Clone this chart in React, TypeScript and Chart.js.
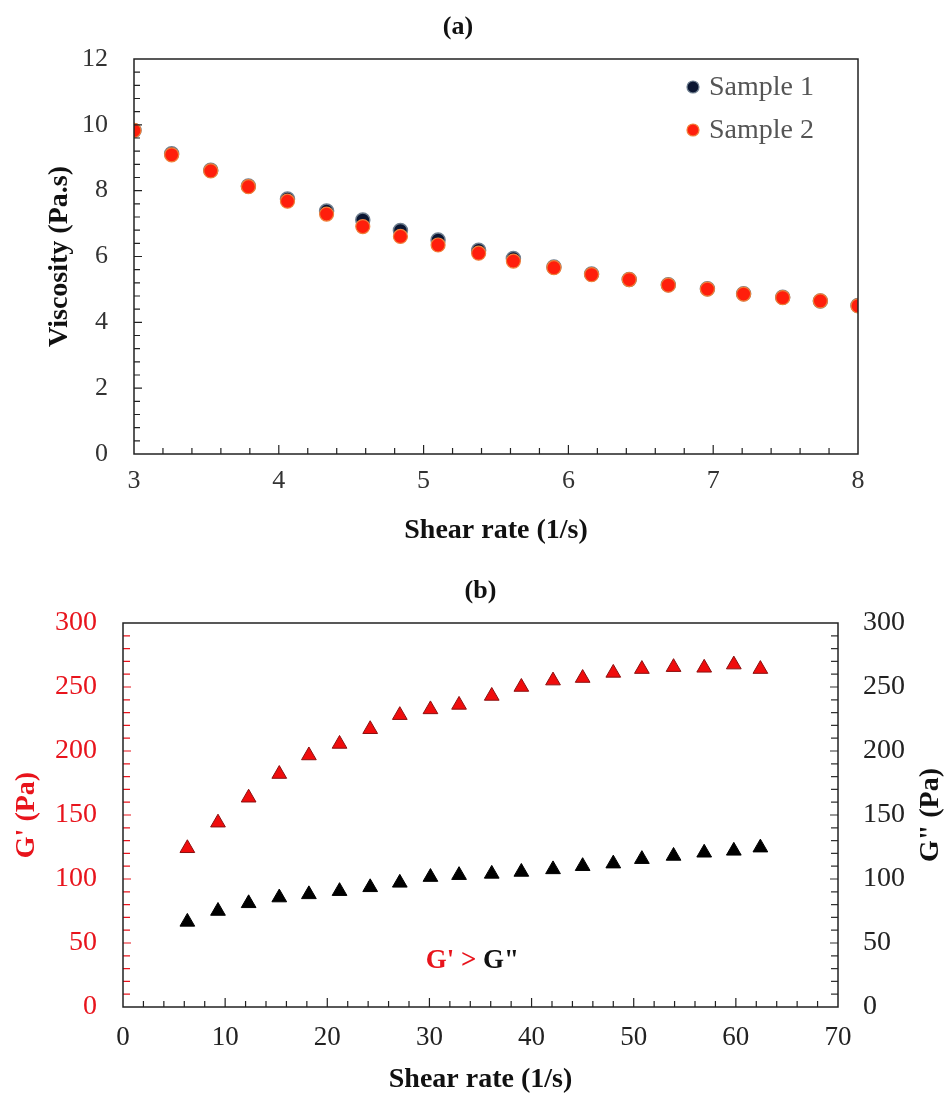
import React, { useEffect, useRef } from "react";
import { Chart, registerables } from "chart.js";
Chart.register(...registerables);

const FONT = "'Liberation Serif', 'Times New Roman', Times, serif";

// ---------- (a) viscosity ----------
const shearA = [3.0, 3.26, 3.53, 3.79, 4.06, 4.33, 4.58, 4.84, 5.1, 5.38, 5.62, 5.9, 6.16, 6.42, 6.69, 6.96, 7.21, 7.48, 7.74, 8.0];
const sample1 = [9.83, 9.12, 8.62, 8.14, 7.75, 7.38, 7.11, 6.79, 6.5, 6.19, 5.94, 5.68, 5.47, 5.3, 5.14, 5.02, 4.87, 4.76, 4.65, 4.51];
const sample2 = [9.83, 9.09, 8.6, 8.12, 7.68, 7.29, 6.91, 6.61, 6.35, 6.1, 5.86, 5.66, 5.45, 5.3, 5.13, 5.01, 4.86, 4.75, 4.65, 4.5];
const seriesA = ["Sample 1", "Sample 2"];

// ---------- (b) moduli ----------
const shearB = [6.3, 9.3, 12.3, 15.3, 18.2, 21.2, 24.2, 27.1, 30.1, 32.9, 36.1, 39.0, 42.1, 45.0, 48.0, 50.8, 53.9, 56.9, 59.8, 62.4];
const gPrime = [124, 144, 163.5, 182, 196.5, 205.5, 217, 228, 232.5, 236, 243, 250, 255, 257, 261, 264, 265.5, 265, 267.5, 264];
const gDouble = [66.5, 75, 81, 85.5, 88, 90.5, 93.5, 97, 101.5, 103, 104, 105.5, 107.5, 110, 112, 115.5, 118, 120.5, 122, 124.5];
const seriesB = ["G'", 'G"'];

const RED = "#e8141c";

function drawTicks(chart: any, id: string, step: number, majorEvery: number, side: string, color: string, majorLen: number, minorLen: number) {
  const scale = chart.scales[id];
  const { ctx, chartArea } = chart;
  const n = Math.round((scale.max - scale.min) / step);
  ctx.save();
  ctx.strokeStyle = color;
  ctx.lineWidth = 1.2;
  ctx.beginPath();
  for (let i = 1; i < n; i++) {
    const p = scale.getPixelForValue(scale.min + i * step);
    const len = i % majorEvery === 0 ? majorLen : minorLen;
    if (side === "bottom") {
      ctx.moveTo(p, chartArea.bottom);
      ctx.lineTo(p, chartArea.bottom - len);
    } else if (side === "left") {
      ctx.moveTo(chartArea.left, p);
      ctx.lineTo(chartArea.left + len, p);
    } else {
      ctx.moveTo(chartArea.right, p);
      ctx.lineTo(chartArea.right - len, p);
    }
  }
  ctx.stroke();
  ctx.restore();
}

function drawFrame(chart: any, color: string) {
  const { ctx, chartArea } = chart;
  ctx.save();
  ctx.strokeStyle = color;
  ctx.lineWidth = 1.5;
  ctx.strokeRect(chartArea.left, chartArea.top, chartArea.right - chartArea.left, chartArea.bottom - chartArea.top);
  ctx.restore();
}

function configA(): any {
  const decor = {
    id: "decorA",
    afterDraw(chart: any) {
      const { ctx, chartArea } = chart;
      drawTicks(chart, "x", 0.2, 5, "bottom", "#222", 9, 6);
      drawTicks(chart, "y", 0.4, 5, "left", "#222", 8, 6);
      drawFrame(chart, "#222");
      ctx.save();
      ctx.fillStyle = "#111";
      ctx.font = `bold 26px ${FONT}`;
      ctx.textAlign = "center";
      ctx.textBaseline = "middle";
      ctx.fillText("(a)", 458, 27);
      // legend
      const lx = chartArea.right - 165;
      const ys = [chartArea.top + 28, chartArea.top + 71];
      ctx.font = `28px ${FONT}`;
      ctx.textAlign = "left";
      chart.data.datasets.forEach((ds: any, i: number) => {
        ctx.beginPath();
        ctx.arc(lx, ys[i], 6, 0, Math.PI * 2);
        ctx.fillStyle = ds.backgroundColor;
        ctx.fill();
        ctx.lineWidth = 1.2;
        ctx.strokeStyle = ds.borderColor;
        ctx.stroke();
        ctx.fillStyle = "#555";
        ctx.fillText(ds.label, lx + 16, ys[i] + 1);
      });
      ctx.restore();
    },
  };
  return {
    type: "scatter",
    data: {
      datasets: [
        {
          label: seriesA[0],
          data: shearA.map((x, i) => ({ x, y: sample1[i] })),
          backgroundColor: "#0b1632",
          borderColor: "#6f7f90",
          borderWidth: 1.5,
          pointRadius: 7,
          order: 1,
        },
        {
          label: seriesA[1],
          data: shearA.map((x, i) => ({ x, y: sample2[i] })),
          backgroundColor: "#ff1e0c",
          borderColor: "#f0803a",
          borderWidth: 1.2,
          pointRadius: 7,
          order: 0,
        },
      ],
    },
    options: {
      responsive: false,
      animation: false,
      events: [],
      layout: { padding: { top: 59, right: 89, left: 0, bottom: 0 } },
      plugins: { legend: { display: false }, tooltip: { enabled: false }, title: { display: false } },
      scales: {
        x: {
          type: "linear",
          min: 3,
          max: 8,
          grid: { display: false, drawTicks: false },
          border: { display: false },
          ticks: { stepSize: 1, padding: 12, color: "#333", font: { family: FONT, size: 26 }, maxRotation: 0, autoSkip: false },
          title: { display: true, text: "Shear rate (1/s)", color: "#111", font: { family: FONT, size: 28, weight: "bold" }, padding: { top: 0, bottom: 2 } },
          afterFit: (s: any) => { s.height = 96; },
        },
        y: {
          type: "linear",
          min: 0,
          max: 12,
          grid: { display: false, drawTicks: false },
          border: { display: false },
          ticks: { stepSize: 2, padding: 26, color: "#333", font: { family: FONT, size: 26 } },
          title: { display: true, text: "Viscosity (Pa.s)", color: "#111", font: { family: FONT, size: 28, weight: "bold" }, padding: { top: 42.7, bottom: 0 } },
          afterFit: (s: any) => { s.width = 134; },
        },
      },
    },
    plugins: [decor],
  };
}

function configB(): any {
  const decor = {
    id: "decorB",
    afterDraw(chart: any) {
      const { ctx, chartArea } = chart;
      drawTicks(chart, "x", 2, 5, "bottom", "#222", 9, 6);
      drawTicks(chart, "y", 10, 5, "left", RED, 8, 7);
      drawTicks(chart, "y2", 10, 5, "right", "#333", 8, 7);
      drawFrame(chart, "#222");
      ctx.save();
      ctx.fillStyle = "#111";
      ctx.font = `bold 26px ${FONT}`;
      ctx.textAlign = "center";
      ctx.textBaseline = "middle";
      ctx.fillText("(b)", (chartArea.left + chartArea.right) / 2, 41);
      // right axis title, reading bottom to top
      ctx.font = `bold 28px ${FONT}`;
      ctx.translate(931, (chartArea.top + chartArea.bottom) / 2);
      ctx.rotate(-Math.PI / 2);
      ctx.fillText('G" (Pa)', 0, 0);
      ctx.restore();
      // annotation G' > G"
      ctx.save();
      ctx.font = `bold 27px ${FONT}`;
      ctx.textBaseline = "middle";
      ctx.textAlign = "left";
      const a = "G' > ";
      const b = 'G"';
      const wa = ctx.measureText(a).width;
      const wb = ctx.measureText(b).width;
      const cx = chart.scales.x.getPixelForValue(34.2);
      const cy = chart.scales.y.getPixelForValue(36);
      const x0 = cx - (wa + wb) / 2;
      ctx.fillStyle = RED;
      ctx.fillText(a, x0, cy);
      ctx.fillStyle = "#111";
      ctx.fillText(b, x0 + wa, cy);
      ctx.restore();
    },
  };
  return {
    type: "scatter",
    data: {
      datasets: [
        {
          label: seriesB[0],
          data: shearB.map((x, i) => ({ x, y: gPrime[i] })),
          yAxisID: "y",
          pointStyle: "triangle",
          backgroundColor: "#f00c0c",
          borderColor: "#8a1010",
          borderWidth: 1,
          pointRadius: 8.5,
        },
        {
          label: seriesB[1],
          data: shearB.map((x, i) => ({ x, y: gDouble[i] })),
          yAxisID: "y2",
          pointStyle: "triangle",
          backgroundColor: "#000000",
          borderColor: "#000000",
          borderWidth: 1,
          pointRadius: 8.5,
        },
      ],
    },
    options: {
      responsive: false,
      animation: false,
      events: [],
      layout: { padding: { top: 73, right: 0, left: 0, bottom: 0 } },
      plugins: { legend: { display: false }, tooltip: { enabled: false }, title: { display: false } },
      scales: {
        x: {
          type: "linear",
          min: 0,
          max: 70,
          grid: { display: false, drawTicks: false },
          border: { display: false },
          ticks: { stepSize: 10, padding: 15, color: "#222", font: { family: FONT, size: 27 }, maxRotation: 0, autoSkip: false },
          title: { display: true, text: "Shear rate (1/s)", color: "#111", font: { family: FONT, size: 28, weight: "bold" }, padding: { top: 0, bottom: 0 } },
          afterFit: (s: any) => { s.height = 90; },
        },
        y: {
          type: "linear",
          position: "left",
          min: 0,
          max: 300,
          grid: { display: false, drawTicks: false },
          border: { display: false },
          ticks: { stepSize: 50, padding: 26, color: RED, font: { family: FONT, size: 28 } },
          title: { display: true, text: "G' (Pa)", color: RED, font: { family: FONT, size: 28, weight: "bold" }, padding: { top: 10, bottom: 0 } },
          afterFit: (s: any) => { s.width = 123; },
        },
        y2: {
          type: "linear",
          position: "right",
          min: 0,
          max: 300,
          grid: { display: false, drawTicks: false },
          border: { display: false },
          ticks: { stepSize: 50, padding: 25, color: "#222", font: { family: FONT, size: 28 } },
          title: { display: false },
          afterFit: (s: any) => { s.width = 109; },
        },
      },
    },
    plugins: [decor],
  };
}

function ChartCanvas({ make, width, height, top }: { make: () => any; width: number; height: number; top: number }) {
  const ref = useRef<HTMLCanvasElement>(null);
  useEffect(() => {
    const chart = new Chart(ref.current as HTMLCanvasElement, make());
    return () => chart.destroy();
  }, [make]);
  return (
    <canvas
      ref={ref}
      width={width}
      height={height}
      style={{ position: "absolute", left: 0, top, width, height, display: "block" }}
    />
  );
}

export default function App() {
  return (
    <div style={{ position: "absolute", left: 0, top: 0, width: 947, height: 1097, background: "#fff", overflow: "hidden" }}>
      <ChartCanvas make={configA} width={947} height={550} top={0} />
      <ChartCanvas make={configB} width={947} height={547} top={550} />
    </div>
  );
}
